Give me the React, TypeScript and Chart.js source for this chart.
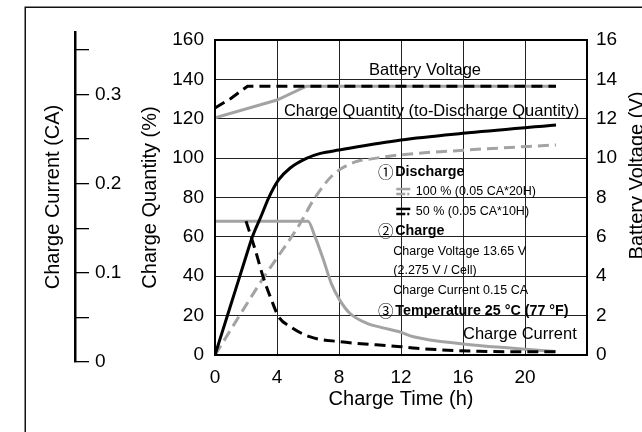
import React, { useEffect, useRef } from 'react';
import { Chart, registerables } from 'chart.js';

Chart.register(...registerables);

const FONT = "'Liberation Sans', Arial, Helvetica, sans-serif";
const GRAY = '#a3a3a3';

// ---- axes / ticks ----
const timeTicks = [0, 4, 8, 12, 16, 20, 24];
const quantityMax = 160;
const quantityStep = 20;
const voltageMax = 16;
const voltageStep = 2;
const currentTickValues = [0, 0.05, 0.1, 0.15, 0.2, 0.25, 0.3, 0.35];
const currentTickLabels = ['0', '', '0.1', '', '0.2', '', '0.3', ''];
const currentAxisMax = 0.37;
// the 0.15 CA charge current is plotted at the 68 % level of the quantity grid
const chargeCurrentCA = 0.15;
const chargeCurrentLevelPct = 68;

// ---- Battery voltage (V) ----
const volt50Hours = [0, 1, 2.1, 22];
const volt50Values = [12.55, 13.02, 13.65, 13.65];
const volt100Hours = [0, 4, 5.9, 22];
const volt100Values = [12.05, 12.95, 13.65, 13.65];

// ---- Charge quantity (%) ----
const qty50Hours = [0, 1, 2, 2.4, 3, 3.45, 4.1, 4.85, 5.9, 6.8, 8, 12, 16, 22];
const qty50Values = [0, 25, 50, 59.8, 71, 79.6, 88.9, 95, 99.9, 102.4, 104.1, 109.2, 112.6, 116.8];
const qty100Hours = [0, 3.1, 5.5, 6.35, 7.6, 9.1, 10, 11.9, 16.2, 22];
const qty100Values = [0, 38.9, 66.9, 78.7, 91.4, 98.2, 99.5, 101.6, 104.1, 106.7];

// ---- Charge current (CA) ----
const cur50Hours = [2, 2.6, 3.1, 3.65, 4.1, 4.85, 6.1, 8, 12, 13, 17, 22];
const cur50Values = [0.15, 0.1176, 0.0878, 0.0615, 0.043, 0.0318, 0.0205, 0.015, 0.0093, 0.0075, 0.0042, 0.0035];
const cur100Hours = [0, 6, 6.45, 7, 7.5, 8.05, 8.7, 9.8, 10.7, 11.9, 12.8, 16, 19.2, 22];
const cur100Values = [0.15, 0.15, 0.1326, 0.1065, 0.0803, 0.0615, 0.0468, 0.0355, 0.031, 0.026, 0.0205, 0.0124, 0.0075, 0.0038];

const pts = (xs: number[], ys: number[]) => xs.map((x, i) => ({ x, y: ys[i] }));

const font = (size: number, weight: string = 'normal') => ({ family: FONT, size, weight });

const decorPlugin = {
  id: 'decor',
  afterLayout(chart: any) {
    const s = chart.scales.yCA;
    const ca = chart.chartArea;
    s.top = ca.top - 8;
    s.bottom = ca.bottom + 7;
    s.height = s.bottom - s.top;
    s.configure();
    s._gridLineItems = null;
    s._labelItems = null;
  },
  afterDraw(chart: any) {
    const { ctx, chartArea: ca, scales } = chart;
    const px = (h: number) => scales.x.getPixelForValue(h);
    const py = (q: number) => scales.yQ.getPixelForValue(q);
    ctx.save();
    // outer frame
    ctx.strokeStyle = '#111';
    ctx.lineWidth = 1.5;
    ctx.strokeRect(25.25, 7.25, 800, 700);
    // plot frame
    ctx.strokeStyle = '#000';
    ctx.lineWidth = 2;
    ctx.strokeRect(ca.left, ca.top, ca.right - ca.left, ca.bottom - ca.top);

    ctx.fillStyle = '#000';
    ctx.textBaseline = 'middle';
    ctx.font = `16.5px ${FONT}`;
    ctx.textAlign = 'center';
    ctx.fillText('Battery Voltage', px(13.55), py(144.3));
    ctx.fillText('Charge Quantity (to-Discharge Quantity)', px(13.97), py(123.7));
    ctx.textAlign = 'left';
    ctx.fillText('Charge Current', px(16), py(10.2));

    // legend block
    const lx = px(10.6);
    const ly = py(93.1);
    const row = 19.85;
    const circled = (ch: string, y: number) => {
      ctx.font = `15.5px 'Noto Sans CJK JP', 'DejaVu Sans', sans-serif`;
      ctx.textAlign = 'center';
      ctx.fillText(ch, lx + 6.5, y);
      ctx.textAlign = 'left';
    };
    const icon = (color: string, y: number) => {
      ctx.strokeStyle = color;
      ctx.lineWidth = 2.5;
      ctx.setLineDash([]);
      ctx.beginPath();
      ctx.moveTo(lx + 17, y - 2.5);
      ctx.lineTo(lx + 31, y - 2.5);
      ctx.stroke();
      ctx.setLineDash([9, 2, 2, 10]);
      ctx.beginPath();
      ctx.moveTo(lx + 17, y + 2.5);
      ctx.lineTo(lx + 31, y + 2.5);
      ctx.stroke();
      ctx.setLineDash([]);
    };
    circled('\u2460', ly);
    ctx.font = `bold 14.3px ${FONT}`;
    ctx.fillText('Discharge', lx + 16, ly);
    icon(GRAY, ly + row);
    ctx.font = `12.5px ${FONT}`;
    ctx.fillText('100 % (0.05 CA*20H)', lx + 36.5, ly + row);
    icon('#000', ly + 2 * row);
    ctx.font = `12.5px ${FONT}`;
    ctx.fillText('50 % (0.05 CA*10H)', lx + 36.5, ly + 2 * row);
    circled('\u2461', ly + 3 * row);
    ctx.font = `bold 14.3px ${FONT}`;
    ctx.fillText('Charge', lx + 16, ly + 3 * row);
    ctx.font = `12.5px ${FONT}`;
    ctx.fillText('Charge Voltage 13.65 V', lx + 14, ly + 4 * row);
    ctx.fillText('(2.275 V / Cell)', lx + 14, ly + 5 * row);
    ctx.fillText('Charge Current 0.15 CA', lx + 14, ly + 6 * row);
    circled('\u2462', ly + 7 * row);
    ctx.font = `bold 14.3px ${FONT}`;
    ctx.fillText('Temperature 25 \u00B0C (77 \u00B0F)', lx + 16, ly + 7 * row);

    // right axis title (reads bottom to top)
    ctx.save();
    ctx.translate(ca.right + 50, (ca.top + ca.bottom) / 2 - 22);
    ctx.rotate(-Math.PI / 2);
    ctx.font = `20px ${FONT}`;
    ctx.textAlign = 'center';
    ctx.fillText('Battery Voltage (V)', 0, 0);
    ctx.restore();

    ctx.restore();
  },
};

export default function App() {
  const ref = useRef<HTMLCanvasElement>(null);
  useEffect(() => {
    const canvas = ref.current;
    if (!canvas) return;
    const line = { pointRadius: 0, borderWidth: 3, fill: false };
    const chart = new Chart(canvas, {
      type: 'line',
      data: {
        datasets: [
          { ...line, label: 'Voltage 50%', data: pts(volt50Hours, volt50Values), yAxisID: 'yV', borderColor: '#000', borderDash: [11, 6], tension: 0, order: 0 },
          { ...line, label: 'Voltage 100%', data: pts(volt100Hours, volt100Values), yAxisID: 'yV', borderColor: GRAY, tension: 0, order: 3 },
          { ...line, label: 'Quantity 50%', data: pts(qty50Hours, qty50Values), yAxisID: 'yQ', borderColor: '#000', cubicInterpolationMode: 'monotone', order: 1 },
          { ...line, label: 'Quantity 100%', data: pts(qty100Hours, qty100Values), yAxisID: 'yQ', borderColor: GRAY, borderDash: [11, 6], cubicInterpolationMode: 'monotone', order: 2 },
          { ...line, label: 'Current 50%', data: pts(cur50Hours, cur50Values), yAxisID: 'yCur', borderColor: '#000', borderDash: [11, 6], cubicInterpolationMode: 'monotone', order: 0 },
          { ...line, label: 'Current 100%', data: pts(cur100Hours, cur100Values), yAxisID: 'yCur', borderColor: GRAY, cubicInterpolationMode: 'monotone', order: 3 },
        ] as any,
      },
      options: {
        responsive: false,
        animation: false,
        devicePixelRatio: 1,
        events: [],
        layout: { padding: { top: 40, left: 0, right: 0, bottom: 0 } },
        plugins: { legend: { display: false }, tooltip: { enabled: false } },
        scales: {
          x: {
            type: 'linear',
            position: 'bottom',
            min: 0,
            max: 24,
            afterBuildTicks: (s: any) => { s.ticks = timeTicks.map((v) => ({ value: v })); },
            ticks: {
              callback: (v: any) => (v === 24 ? '' : String(v)),
              font: font(19), color: '#000', padding: 11, maxRotation: 0, autoSkip: false,
            },
            grid: { color: '#222', lineWidth: 1, drawTicks: false },
            border: { display: true, color: '#000', width: 2 },
            title: { display: true, text: 'Charge Time (h)', font: font(20), color: '#000', padding: { top: 0, bottom: 21 } },
            afterFit: (s: any) => { s.height = 77; },
          },
          yQ: {
            type: 'linear',
            position: 'left',
            weight: 0,
            min: 0,
            max: quantityMax,
            ticks: { stepSize: quantityStep, font: font(19), color: '#000', padding: 11 },
            grid: { color: '#222', lineWidth: 1, drawTicks: false },
            border: { color: '#000', width: 2 },
            title: { display: true, text: 'Charge Quantity (%)', font: font(20), color: '#000', padding: { top: 63, bottom: 0 } },
            afterFit: (s: any) => { s.width = 140; },
          },
          yCA: {
            type: 'linear',
            position: 'left',
            weight: 1,
            min: 0,
            max: currentAxisMax,
            afterBuildTicks: (s: any) => { s.ticks = currentTickValues.map((v) => ({ value: v })); },
            ticks: {
              mirror: true, padding: 20, font: font(19), color: '#000', autoSkip: false,
              callback: (v: any) => {
                const i = currentTickValues.findIndex((t) => Math.abs(t - v) < 1e-9);
                return i >= 0 ? currentTickLabels[i] : '';
              },
            },
            grid: { drawOnChartArea: false, drawTicks: true, tickLength: -14, color: '#000', lineWidth: 1.3 },
            border: { color: '#000', width: 2.5 },
            title: { display: true, text: 'Charge Current (CA)', font: font(20), color: '#000', padding: { top: 41, bottom: 0 } },
            afterFit: (s: any) => { s.width = 75; },
          },
          yCur: {
            type: 'linear',
            display: false,
            min: 0,
            max: (chargeCurrentCA * quantityMax) / chargeCurrentLevelPct,
          },
          yV: {
            type: 'linear',
            position: 'right',
            min: 0,
            max: voltageMax,
            ticks: { stepSize: voltageStep, font: font(19), color: '#000', padding: 9 },
            grid: { display: false, drawTicks: false },
            border: { display: false },
            afterFit: (s: any) => { s.width = 55; },
          },
        } as any,
      },
      plugins: [decorPlugin as any],
    });
    return () => chart.destroy();
  }, []);
  return (
    <div style={{ position: 'fixed', left: 0, top: 0, width: 642, height: 432, background: '#fff', overflow: 'hidden' }}>
      <canvas ref={ref} width={642} height={432} style={{ display: 'block', width: 642, height: 432 }} />
    </div>
  );
}
